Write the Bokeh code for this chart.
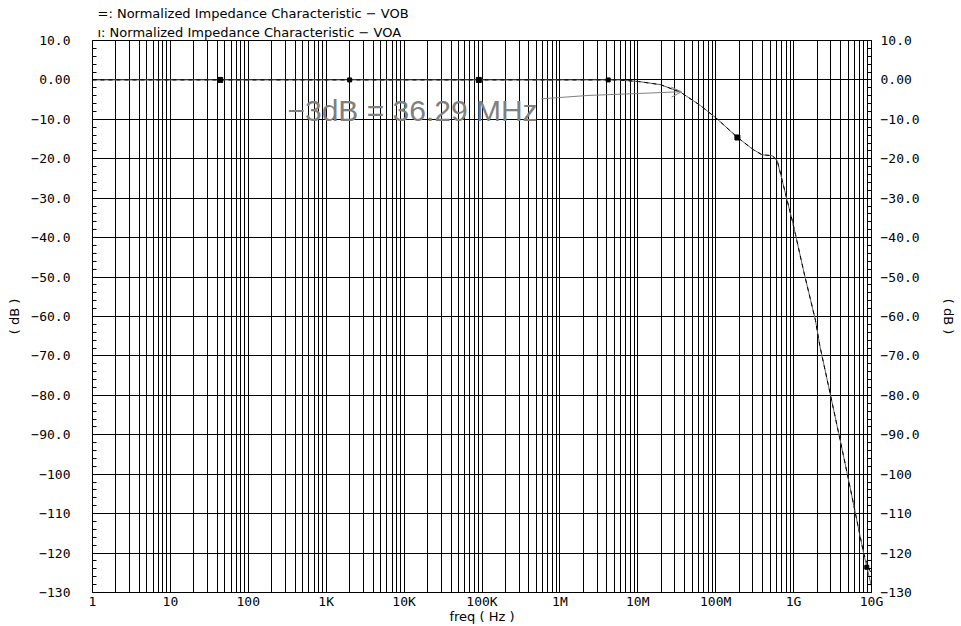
from bokeh.plotting import figure
from bokeh.models import FixedTicker, LinearAxis, Range1d, Label, Arrow, OpenHead, Title
from bokeh.embed import file_html
from bokeh.resources import INLINE

# ---------------- data ----------------
freq_hz = [1, 1e3, 1e6, 5.65e6, 1.02e7, 1.96e7, 3.53e7, 6.38e7, 1.045e8, 1.905e8,
           3.05e8, 3.95e8, 5.31e8, 6.15e8, 7.14e8, 8.28e8, 9.59e8, 1.057e9, 1.35e9,
           1.91e9, 2.17e9, 2.98e9, 3.80e9, 4.88e9, 6.23e9, 7.96e9, 1e10]
vob_db = [0, 0, 0, 0, -0.4, -1.2, -3.1, -6.5, -9.9, -14.6,
          -17.7, -19.0, -19.2, -20.4, -25.5, -30.6, -35.6, -39.2, -48.6,
          -61.0, -67.4, -80.0, -89.7, -99.8, -110.0, -120.2, -128.5]
voa_db = [0, 0, 0, 0, -0.4, -1.2, -3.1, -6.5, -9.9, -14.6,
          -17.7, -19.0, -19.2, -20.4, -25.5, -30.6, -35.6, -39.2, -48.6,
          -61.0, -67.4, -80.0, -89.7, -99.8, -110.0, -120.2, -125.5]

vob_marker_hz = [43.6, 9.1e4, 1.9e8]
vob_marker_db = [0, 0, -14.6]
voa_marker_hz = [2.0e3, 4.17e6, 8.7e9]
voa_marker_db = [0, 0, -123.6]

cutoff_hz = 36.29e6
cutoff_db = -3.0
cutoff_text = "\u22123dB = 36.29 MHz"

x_ticks = [1, 10, 100, 1000, 10**4, 10**5, 10**6, 10**7, 10**8, 10**9, 10**10]
x_tick_labels = ["1", "10", "100", "1K", "10K", "100K", "1M", "10M", "100M", "1G", "10G"]
x_minor = [m * 10**k for k in range(10) for m in range(2, 10)]

y_ticks = [10, 0, -10, -20, -30, -40, -50, -60, -70, -80, -90, -100, -110, -120, -130]
y_tick_labels = ["10.0", "0.00", "\u221210.0", "\u221220.0", "\u221230.0", "\u221240.0",
                 "\u221250.0", "\u221260.0", "\u221270.0", "\u221280.0", "\u221290.0",
                 "\u2212100", "\u2212110", "\u2212120", "\u2212130"]
y_minor = list(range(-130, 11, 2))

legend_lines = ["=: Normalized Impedance Characteristic \u2212 VOB",
                "\u0131: Normalized Impedance Characteristic \u2212 VOA"]

# ---------------- figure ----------------
p = figure(width=961, height=626, x_axis_type="log",
           x_range=Range1d(1, 1e10), y_range=Range1d(-130, 10),
           output_backend="svg", toolbar_location=None,
           min_border_left=92, min_border_right=90,
           min_border_top=40, min_border_bottom=34)
p.outline_line_color = "black"
p.background_fill_color = "white"
p.border_fill_color = "white"

mono = "DejaVu Sans Mono"

# legend lines as a two-line title above the frame
p.add_layout(Title(text="\n".join(legend_lines), align="left", offset=5, standoff=1,
                   text_font="DejaVu Sans", text_font_size="13px",
                   text_font_style="normal", text_color="black",
                   text_line_height=1.3), "above")

# x axis
xa = p.xaxis[0]
xa.ticker = FixedTicker(ticks=x_ticks, minor_ticks=x_minor)
xa.major_label_overrides = dict(zip(x_ticks, x_tick_labels))
xa.major_tick_in = 0
xa.major_tick_out = 0
xa.minor_tick_in = 0
xa.minor_tick_out = 0
xa.major_tick_line_color = None
xa.minor_tick_line_color = None
xa.axis_line_color = "black"
xa.major_label_text_font = mono
xa.major_label_text_font_size = "13px"
xa.major_label_text_color = "black"
xa.major_label_standoff = 1
xa.axis_label = "freq ( Hz )"
xa.axis_label_text_font = "DejaVu Sans"
xa.axis_label_text_font_style = "normal"
xa.axis_label_text_font_size = "13px"
xa.axis_label_text_color = "black"
xa.axis_label_standoff = -3

# y axes
def style_y(ax, standoff, label_standoff):
    ax.ticker = FixedTicker(ticks=y_ticks, minor_ticks=y_minor)
    ax.major_label_overrides = dict(zip(y_ticks, y_tick_labels))
    ax.major_tick_in = 0
    ax.major_tick_out = 0
    ax.minor_tick_in = 4
    ax.minor_tick_out = 0
    ax.minor_tick_line_color = "black"
    ax.axis_line_color = "black"
    ax.major_label_text_font = mono
    ax.major_label_text_font_size = "13px"
    ax.major_label_text_color = "black"
    ax.major_label_standoff = standoff
    ax.axis_label = "( dB )"
    ax.axis_label_text_font = "DejaVu Sans"
    ax.axis_label_text_font_style = "normal"
    ax.axis_label_text_font_size = "13px"
    ax.axis_label_text_color = "black"
    ax.axis_label_standoff = label_standoff

style_y(p.yaxis[0], 22, 6)
right_axis = LinearAxis()
style_y(right_axis, 9, 18)
p.add_layout(right_axis, "right")

# grids
p.xgrid.grid_line_color = "black"
p.xgrid.minor_grid_line_color = "black"
p.xgrid.grid_line_width = 1
p.xgrid.minor_grid_line_width = 1
p.ygrid.grid_line_color = "black"
p.ygrid.grid_line_width = 1

# curves
p.line(freq_hz, vob_db, line_color="#606060", line_width=1)
p.line(freq_hz, voa_db, line_color="black", line_width=1, line_dash="4 4")
p.scatter(vob_marker_hz, vob_marker_db, marker="square", size=5,
          fill_color="black", line_color="black")
p.scatter(voa_marker_hz, voa_marker_db, marker="square", size=4,
          fill_color="black", line_color="black")

# annotation: -3dB point
gray = "#808080"
p.add_layout(Label(x=318, y=-7.75, text=cutoff_text, text_font="Liberation Sans",
                   text_font_size="30px", text_color=gray, text_baseline="middle"))
p.line([5.8e5, 2.24e6], [-4.8, -3.95], line_color=gray, line_width=1)
p.add_layout(Arrow(end=OpenHead(size=10, line_color=gray, line_width=1),
                   x_start=2.24e6, y_start=-3.95, x_end=cutoff_hz, y_end=cutoff_db,
                   line_color=gray, line_width=1))

open("out.html", "w").write(file_html(p, INLINE))
